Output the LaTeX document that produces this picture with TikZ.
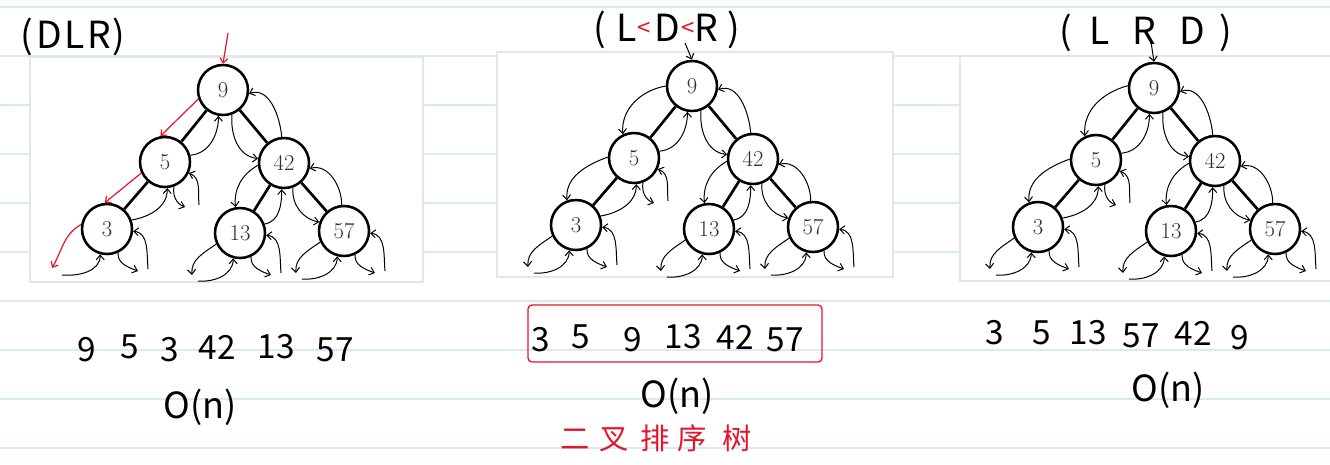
\documentclass[tikz,border=0pt]{standalone}
\usepackage{fontspec}
\newfontfamily\hand{Noto Sans CJK SC}
\usetikzlibrary{arrows.meta,calc}
\definecolor{ruleblue}{RGB}{214,234,248}
\definecolor{boxgray}{RGB}{226,229,234}
\definecolor{inkred}{RGB}{228,22,42}
\definecolor{numcol}{RGB}{50,45,40}
\tikzset{
  tnode/.style={circle, draw=black, line width=1.9pt, minimum size=37.5pt, inner sep=0pt,
    font=\fontsize{17}{17}\selectfont, text=numcol},
  tedge/.style={line width=2pt},
  trav/.style={line width=0.75pt, -{Straight Barb[length=3.5pt,width=6pt]}},
  redtrav/.style={trav, draw=inkred, line width=0.9pt},
  ruleline/.style={draw=ruleblue, line width=1.4pt},
  shotbox/.style={draw=boxgray, line width=1.4pt, fill=white},
  seqtxt/.style={font=\hand\fontsize{25}{25}\selectfont, inner sep=0pt},
  headtxt/.style={font=\hand\fontsize{28}{28}\selectfont, inner sep=0pt},
}
% tree: prefix, x, y
\newcommand{\mytree}[3]{%
  \node[tnode] (#1n9) at (#2,#3) {9};
  \node[tnode] (#1n5) at ($(#1n9)+(-58,-72)$) {5};
  \node[tnode] (#1n42) at ($(#1n9)+(61,-73)$) {42};
  \node[tnode] (#1n3) at ($(#1n9)+(-116,-139)$) {3};
  \node[tnode] (#1n13) at ($(#1n9)+(17,-143)$) {\raisebox{-4pt}{13}};
  \node[tnode] (#1n57) at ($(#1n9)+(121,-141)$) {57};
  \draw[tedge] (#1n9) -- (#1n5);
  \draw[tedge] (#1n9) -- (#1n42);
  \draw[tedge] (#1n5) -- (#1n3);
  \draw[tedge] (#1n42) -- (#1n13);
  \draw[tedge] (#1n42) -- (#1n57);
  % common traversal arrows
  \draw[trav] (#1n5.15) to[out=5,in=-90] (#1n9.-100);
  \draw[trav] (#1n9.-70) to[out=-95,in=175] (#1n42.170);
  \draw[trav] (#1n42.95) to[out=95,in=20] (#1n9.-8);
  \draw[trav] (#1n3.20) to[out=10,in=-90] (#1n5.-85);
  \draw[trav] (#1n5.-70) to[out=-100,in=160] ($(#1n5)+(20,-45)$);
  \draw[trav] ($(#1n5)+(34,-43)$) to[out=95,in=-20] (#1n5.-25);
  \draw[trav] (#1n42.185) to[out=210,in=95] (#1n13.100);
  \draw[trav] (#1n13.20) to[out=10,in=-90] (#1n42.-95);
  \draw[trav] (#1n42.-70) to[out=-95,in=170] (#1n57.160);
  \draw[trav] (#1n57.95) to[out=90,in=15] (#1n42.-12);
  \leafright{#1n3}
  \leafleft{#1n13}\leafright{#1n13}
  \leafleft{#1n57}\leafright{#1n57}
}
\newcommand{\leafleft}[1]{%
  \draw[trav] (#1.205) to[out=215,in=95] ($(#1)+(-48,-42)$);
  \draw[trav] ($(#1)+(-42,-48)$) to[out=-5,in=-90] (#1.-105);
}
\newcommand{\leafright}[1]{%
  \draw[trav] (#1.-65) to[out=-95,in=160] ($(#1)+(31,-42)$);
  \draw[trav] ($(#1)+(41,-40)$) to[out=95,in=-5] (#1.-5);
}
\newcommand{\redlt}{\raisebox{4pt}{\textcolor{inkred}{\fontsize{18}{18}\selectfont<}}}
\begin{document}
\begin{tikzpicture}[x=0.75pt,y=0.75pt]
\useasboundingbox (0,0) rectangle (1330,-464);
\fill[white] (0,0) rectangle (1330,-464);
% ruled paper
\foreach \k in {0,...,9}{
  \draw[ruleline] (0,{-7-49*\k}) -- (1330,{-7-49*\k});
}
% screenshot boxes
\draw[shotbox] (30,-57) rectangle (423,-282);
\draw[shotbox] (497,-52) rectangle (893,-277);
\draw[shotbox] (960,-56) rectangle (1334,-281);

% headings
\node[headtxt] (h1) at (73,-37) {(\hspace{2pt}D\hspace{2pt}L\hspace{2pt}R\hspace{1pt})};
\node[headtxt] (h2) at (667,-30) {(\hspace{8pt}L\redlt\hspace{3pt}D\hspace{1pt}\redlt R\hspace{7pt})};
\node[headtxt] (h3) at (1146,-33) {(\hspace{13pt}L\hspace{17pt}R\hspace{17pt}D\hspace{11pt})};

% trees
\mytree{a}{223}{-90}
\mytree{b}{692}{-86}
\mytree{c}{1154}{-88}

% tree a specific (red descent)
\coordinate (atop) at (228,-33);
\draw[redtrav] (atop) -- (an9.north);
\draw[redtrav] (an9.200) -- (an5.100);
\draw[redtrav] (an5.205) -- (an3.95);
\draw[redtrav] (an3.170) to[out=210,in=60] ($(an3)+(-55,-39)$);
\draw[trav] ($(an3)+(-45,-46)$) to[out=-5,in=-90] (an3.-105);

% tree b specific
\coordinate (btop) at (685,-43);
\draw[trav] (btop) -- (bn9.north);
\draw[trav] (bn9.180) to[out=190,in=95] (bn5.115);
\draw[trav] (bn5.178) to[out=200,in=95] (bn3.110);
\leafleft{bn3}

% tree c specific
\coordinate (ctop) at (1151,-42);
\draw[trav] (ctop) -- (cn9.north);
\draw[trav] (cn9.175) to[out=195,in=95] (cn5.115);
\draw[trav] (cn5.178) to[out=200,in=95] (cn3.110);
\leafleft{cn3}

% sequences
\node[seqtxt] (s1a) at (87,-350) {9};
\node[seqtxt] (s1b) at (130,-347) {5};
\node[seqtxt] (s1c) at (170,-350) {3};
\node[seqtxt] (s1d) at (217,-347) {42};
\node[seqtxt] (s1e) at (276,-347) {13};
\node[seqtxt] (s1f) at (335,-350) {57};
\node[seqtxt, font=\hand\fontsize{27}{27}\selectfont] (o1) at (200,-407) {O(n)};

\draw[inkred, line width=1pt, rounded corners=3pt] (528,-305) rectangle (822,-362);
\node[seqtxt] (s2a) at (541,-340) {3};
\node[seqtxt] (s2b) at (581,-337) {5};
\node[seqtxt] (s2c) at (633,-340) {9};
\node[seqtxt] (s2d) at (683,-337) {13};
\node[seqtxt] (s2e) at (735,-337) {42};
\node[seqtxt] (s2f) at (785,-340) {57};
\node[seqtxt, font=\hand\fontsize{27}{27}\selectfont] (o2) at (677,-396) {O(n)};
\node[font=\hand\fontsize{22}{22}\selectfont, text=inkred, inner sep=0pt] (cn) at (656,-438) {二\hspace{8pt}叉\hspace{8pt}排\hspace{6pt}序\hspace{12pt}树};

\node[seqtxt] (s3a) at (995,-333) {3};
\node[seqtxt] (s3b) at (1042,-333) {5};
\node[seqtxt] (s3c) at (1088,-333) {13};
\node[seqtxt] (s3d) at (1141,-336) {57};
\node[seqtxt] (s3e) at (1193,-333) {42};
\node[seqtxt] (s3f) at (1240,-338) {9};
\node[seqtxt, font=\hand\fontsize{27}{27}\selectfont] (o3) at (1168,-390) {O(n)};
\end{tikzpicture}
\end{document}
